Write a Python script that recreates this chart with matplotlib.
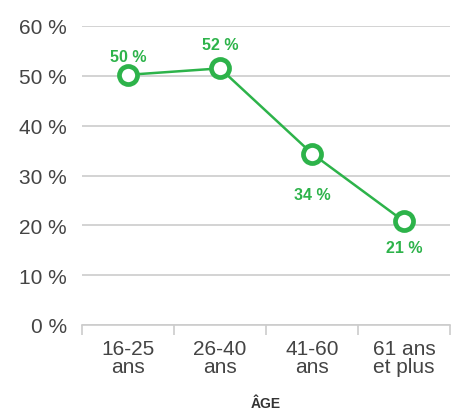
import numpy as np
import matplotlib
matplotlib.use("Agg")
from matplotlib import pyplot as plt

# Données
categories = ["16-25\nans", "26-40\nans", "41-60\nans", "61 ans\net plus"]
valeurs = [50.2, 51.5, 34.4, 20.8]
yticks = [0, 10, 20, 30, 40, 50, 60]

vert = "#2db34a"
gris_texte = "#444444"

plt.rcParams["font.family"] = ["Liberation Sans", "DejaVu Sans"]

fig = plt.figure(figsize=(4.63, 4.10), dpi=100)
ax = fig.add_axes([82 / 463, 84 / 410, 368 / 463, 299 / 410])

x = np.arange(len(categories))
ax.plot(x, valeurs, color=vert, lw=1.8, marker="o", ms=13,
        mfc="white", mec=vert, mew=3.4, zorder=3)

# étiquettes de valeurs (au-dessus pour les deux premiers, en dessous ensuite)
decalages = [13.5, 17, -29.5, -19]
for xi, v, d in zip(x, valeurs, decalages):
    ax.annotate(f"{round(v)} %", (xi, v), xytext=(0, d), textcoords="offset points",
                ha="center", va="center", color=vert, fontsize=11.5, fontweight="bold")

ax.set_xlim(-0.5, len(categories) - 0.5)
ax.set_ylim(0, 60)
ax.set_yticks(yticks)
ax.set_yticklabels([f"{t} %" for t in yticks])
ax.yaxis.grid(True, color="#cccccc", lw=1.2)
ax.set_axisbelow(True)
ax.tick_params(axis="y", length=0, pad=11, labelsize=15, labelcolor=gris_texte)

ax.set_xticks(x)
ax.set_xticklabels(categories, linespacing=0.95)
ax.set_xticks(np.arange(len(categories) + 1) - 0.5, minor=True)
ax.tick_params(axis="x", which="major", length=0, pad=10, labelsize=15, labelcolor=gris_texte)
ax.tick_params(axis="x", which="minor", length=7, width=1.2, color="#cccccc")

for s in ["left", "right", "top"]:
    ax.spines[s].set_visible(False)
ax.spines["bottom"].set_color("#cccccc")
ax.spines["bottom"].set_linewidth(1.2)

ax.set_xlabel("ÂGE", fontsize=10, fontweight="bold", color="#333333", labelpad=14)

fig.savefig("out.png", dpi=100)
